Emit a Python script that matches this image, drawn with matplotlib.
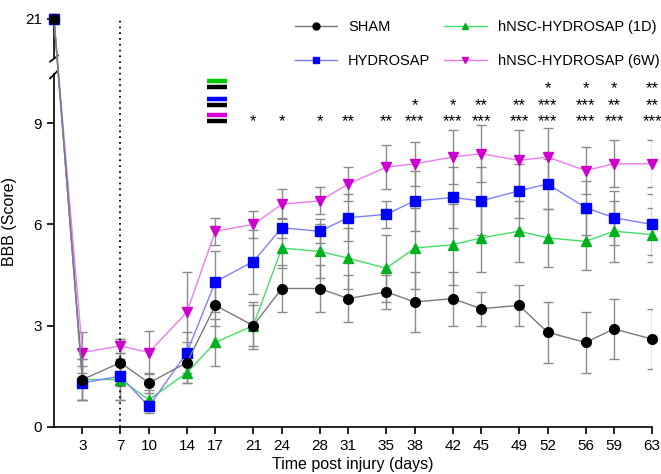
import numpy as np
import matplotlib.pyplot as plt
from matplotlib.lines import Line2D

plt.rcParams['font.family'] = ['Liberation Sans', 'DejaVu Sans']

# BBB scores over time (mean and SEM)
days = [0, 3, 7, 10, 14, 17, 21, 24, 28, 31, 35, 38, 42, 45, 49, 52, 56, 59, 63]
tick_days = days[1:]

sham = [21, 1.4, 1.9, 1.3, 1.9, 3.6, 3.0, 4.1, 4.1, 3.8, 4.0, 3.7, 3.8, 3.5, 3.6, 2.8, 2.5, 2.9, 2.6]
hydro = [21, 1.3, 1.5, 0.6, 2.2, 4.3, 4.9, 5.9, 5.8, 6.2, 6.3, 6.7, 6.8, 6.7, 7.0, 7.2, 6.5, 6.2, 6.0]
nsc_1d = [21, 1.4, 1.4, 0.8, 1.6, 2.5, 3.0, 5.3, 5.2, 5.0, 4.7, 5.3, 5.4, 5.6, 5.8, 5.6, 5.5, 5.8, 5.7]
nsc_6w = [21, 2.2, 2.4, 2.2, 3.4, 5.8, 6.0, 6.6, 6.7, 7.2, 7.7, 7.8, 8.0, 8.1, 7.9, 8.0, 7.6, 7.8, 7.8]

sham_err = [0, 0.6, 0.7, 0.3, 0.6, 0.6, 0.7, 0.7, 0.7, 0.7, 0.5, 0.9, 0.8, 0.5, 0.6, 0.9, 0.9, 0.9, 0.9]
hydro_err = [0, 0.5, 0.7, 0.2, 0.6, 0.9, 0.95, 0.3, 0.35, 0.7, 0.4, 0.9, 0.9, 1.0, 0.8, 0.75, 0.8, 0.8, 0.9]
nsc_1d_err = [0, 0.6, 0.6, 0.3, 0.3, 0.7, 0.6, 0.6, 0.8, 0.9, 1.0, 1.2, 1.2, 1.0, 0.9, 0.85, 0.85, 0.9, 0.8]
nsc_6w_err = [0, 0.6, 0.2, 0.65, 1.2, 0.4, 0.4, 0.45, 0.4, 0.5, 0.65, 0.65, 0.8, 0.85, 0.9, 0.85, 0.7, 0.7, 0.7]

# significance rows (vs SHAM)
sig_1d_days = [52, 56, 59, 63]
sig_1d_marks = ['*', '*', '*', '**']
sig_hydro_days = [38, 42, 45, 49, 52, 56, 59, 63]
sig_hydro_marks = ['*', '*', '**', '**', '***', '***', '**', '**']
sig_6w_days = [21, 24, 28, 31, 35, 38, 42, 45, 49, 52, 56, 59, 63]
sig_6w_marks = ['*', '*', '*', '**', '**', '***', '***', '***', '***', '***', '***', '***', '***']

# broken y axis: linear up to 11, squeezed above
brk = 11.0
squeeze = 0.11


def fwd(y):
    y = np.asarray(y, dtype=float)
    return np.where(y <= brk, y, brk + (y - brk) * squeeze)


def inv(y):
    y = np.asarray(y, dtype=float)
    return np.where(y <= brk, y, brk + (y - brk) / squeeze)


fig = plt.figure(figsize=(6.61, 4.74), dpi=100)
ax = fig.add_axes([54 / 661, 1 - 426.7 / 474, (652 - 54) / 661, (426.7 - 17) / 474])
ax.set_yscale('function', functions=(fwd, inv))
ax.set_xlim(0, 63)
ax.set_ylim(0, 21.5)

groups = [
    (nsc_6w, nsc_6w_err, 'v', '#f07af0', '#cc00cc', 'hNSC-HYDROSAP (6W)'),
    (nsc_1d, nsc_1d_err, '^', '#44dd66', '#00b020', 'hNSC-HYDROSAP (1D)'),
    (hydro, hydro_err, 's', '#7f7fff', '#0000ff', 'HYDROSAP'),
    (sham, sham_err, 'o', '#7a7a7a', '#000000', 'SHAM'),
]

handles = {}
for vals, err, m, lc, fc, lab in groups:
    ax.errorbar(days[1:], vals[1:], yerr=err[1:], fmt='none', ecolor='#8a8a8a',
                elinewidth=1, capsize=3.5, capthick=1, zorder=1)
    ax.plot(days, vals, color=lc, lw=1, marker=m, ms=7, mfc=fc, mec=fc,
            zorder=3, clip_on=False)
    handles[lab] = Line2D([], [], color=lc, lw=1, marker=m, ms=5, mfc=fc, mec=fc)

order = ['SHAM', 'HYDROSAP', 'hNSC-HYDROSAP (1D)', 'hNSC-HYDROSAP (6W)']
fig.legend([handles[k] for k in order], order, ncol=2, frameon=False,
           loc='upper left', bbox_to_anchor=(295 / 661, 1 - 20 / 474),
           borderpad=0, borderaxespad=0, fontsize=10.5, handlelength=2.9,
           handletextpad=0.75, columnspacing=0.95, labelspacing=1.4)

# dotted line at day 7
ax.plot([7, 7], [0, 21], color='k', lw=1.3, ls=(0, (1, 2.2)), zorder=2)

# significance markers and colour keys
for yy, sd, sm in [(10.14, sig_1d_days, sig_1d_marks),
                   (9.64, sig_hydro_days, sig_hydro_marks),
                   (9.16, sig_6w_days, sig_6w_marks)]:
    for d, s in zip(sd, sm):
        ax.text(d, yy - 0.11, s, ha='center', va='center', fontsize=12)

for yy, c in [(10.25, '#00cc00'), (9.73, '#0000ff'), (9.25, '#dd00dd')]:
    ax.plot([16.1, 18.2], [yy, yy], color=c, lw=3.2, solid_capstyle='butt')
    ax.plot([16.1, 18.2], [yy - 0.18, yy - 0.18], color='k', lw=3.2, solid_capstyle='butt')

# axes styling
for s in ['top', 'right']:
    ax.spines[s].set_visible(False)
ax.spines['left'].set_bounds(0, 10.45)
ax.spines['left'].set_linewidth(1.2)
ax.spines['bottom'].set_linewidth(1.2)
ax.plot([0, 0], [10.95, 21], color='k', lw=1.2, transform=ax.get_yaxis_transform(),
        clip_on=False, zorder=2)
bx = 4 / 598
for yb in [10.45, 10.95]:
    ax.plot([-bx, bx], [yb - 0.12, yb + 0.12], color='k', lw=1.2,
            transform=ax.get_yaxis_transform(), clip_on=False)

ax.set_yticks([0, 3, 6, 9, 21])
ax.set_yticklabels(['0', '3', '6', '9', '21'])
ax.yaxis.set_minor_locator(plt.NullLocator())
ax.set_xticks(tick_days)
ax.tick_params(axis='both', labelsize=11, length=5, width=1.2)
ax.set_ylabel('BBB (Score)', fontsize=11.5, labelpad=6)
ax.set_xlabel('Time post injury (days)', fontsize=11.5, labelpad=3)

fig.savefig('out.png', dpi=100)
